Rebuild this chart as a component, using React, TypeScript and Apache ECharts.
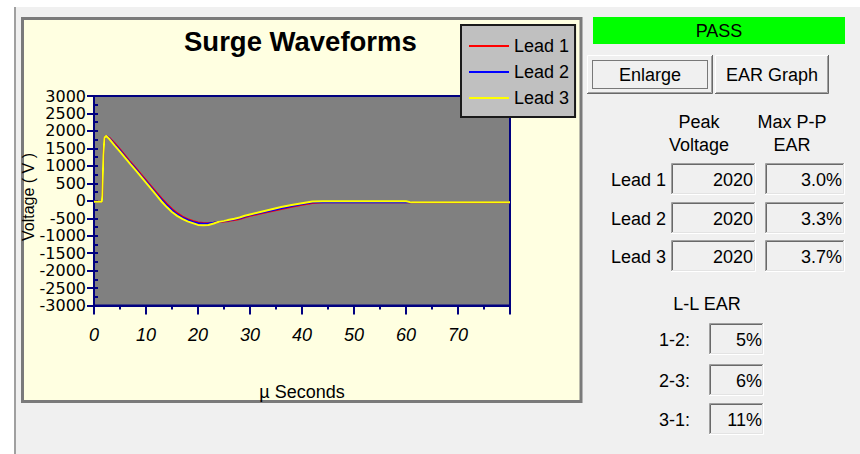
import React, { useEffect, useRef } from "react";
import * as echarts from "echarts";

// ---- data ----
const times = [0, 1.5, 1.6, 1.8, 2.0, 2.3, 3, 4, 5, 6, 7, 8, 9, 10, 11, 12, 13, 14, 15, 16, 17, 18, 19, 20, 21, 22, 23, 24, 25, 26, 27, 28, 29, 30, 32, 34, 36, 38, 40, 42, 44, 50, 55, 60, 61, 70, 80];
const lead1 = [-30, -30, 150, 1300, 1800, 1860, 1800, 1640, 1470, 1290, 1110, 940, 760, 590, 415, 240, 70, -90, -235, -355, -450, -525, -580, -620, -635, -640, -630, -610, -595, -575, -550, -520, -470, -430, -365, -300, -235, -170, -115, -60, -40, -40, -40, -40, -40, -40, -40];
const lead2 = [-30, -30, 150, 1300, 1800, 1860, 1780, 1610, 1440, 1260, 1080, 910, 730, 555, 380, 200, 30, -130, -270, -390, -480, -550, -605, -645, -655, -650, -630, -600, -580, -560, -530, -500, -450, -410, -345, -280, -215, -150, -95, -45, -40, -40, -40, -40, -40, -40, -40];
const lead3 = [-30, -30, 150, 1300, 1800, 1860, 1760, 1580, 1410, 1230, 1050, 880, 700, 520, 340, 160, -20, -180, -320, -430, -520, -590, -640, -690, -700, -695, -650, -600, -575, -545, -515, -480, -430, -390, -320, -250, -180, -120, -70, -20, -15, -15, -15, -15, -45, -45, -45];
const seriesNames = ["Lead 1", "Lead 2", "Lead 3"];
const seriesColors = ["#ff0000", "#0000ff", "#ffff00"];
const xTickLabels = ["0", "10", "20", "30", "40", "50", "60", "70"];
const peakVoltage = ["2020", "2020", "2020"];
const maxPPEar = ["3.0%", "3.3%", "3.7%"];
const llLabels = ["1-2:", "2-3:", "3-1:"];
const llEar = ["5%", "6%", "11%"];

const FONT = '"Liberation Sans", Arial, sans-serif';

function txt(x: number, y: number, text: string, align: string, size = 18, extra: any = {}) {
  return {
    type: "text",
    x,
    y,
    z: 10,
    style: {
      text,
      fill: "#000",
      font: `${size}px ${FONT}`,
      align,
      textAlign: align,
      verticalAlign: "middle",
      textVerticalAlign: "middle",
    },
    ...extra,
  };
}

function line(points: number[][], color: string, width = 1, z = 5) {
  return { type: "polyline", z, shape: { points }, style: { stroke: color, lineWidth: width, fill: null } };
}

function sunken(x: number, y: number, w: number, h: number) {
  return [
    { type: "rect", z: 4, shape: { x, y, width: w, height: h }, style: { fill: "#f0f0f0" } },
    line([[x + 0.5, y + h], [x + 0.5, y + 0.5], [x + w, y + 0.5]], "#a0a0a0"),
    line([[x + 1.5, y + h - 1], [x + 1.5, y + 1.5], [x + w - 1, y + 1.5]], "#696969"),
    line([[x, y + h - 0.5], [x + w - 0.5, y + h - 0.5], [x + w - 0.5, y]], "#ffffff"),
    line([[x + 1, y + h - 1.5], [x + w - 1.5, y + h - 1.5], [x + w - 1.5, y + 1]], "#e3e3e3"),
  ];
}

function button(x: number, y: number, w: number, h: number, label: string, focused: boolean) {
  const els: any[] = [
    { type: "rect", z: 4, shape: { x, y, width: w, height: h }, style: { fill: "#f0f0f0" } },
    line([[x + 0.5, y + h], [x + 0.5, y + 0.5], [x + w, y + 0.5]], "#ffffff"),
    line([[x, y + h - 0.5], [x + w - 0.5, y + h - 0.5], [x + w - 0.5, y]], "#696969"),
    line([[x + 1, y + h - 1.5], [x + w - 1.5, y + h - 1.5], [x + w - 1.5, y + 1]], "#a0a0a0"),
    txt(x + w / 2, y + h / 2, label, "center"),
  ];
  if (focused) {
    els.push({
      type: "rect",
      z: 6,
      shape: { x: x + 5.5, y: y + 5.5, width: w - 11, height: h - 11 },
      style: { fill: null, stroke: "#000", lineWidth: 1, lineDash: [1, 1] },
    });
  }
  return els;
}

export default function App() {
  const ref = useRef<HTMLDivElement>(null);

  useEffect(() => {
    if (!ref.current) return;
    const chart = echarts.init(ref.current, undefined, { renderer: "svg" });

    const graphics: any[] = [
      // page background
      { type: "rect", z: -20, shape: { x: 0, y: 0, width: 860, height: 454 }, style: { fill: "#f0f0f0" } },
      { type: "rect", z: -19, shape: { x: 0, y: 0, width: 860, height: 7 }, style: { fill: "#ffffff" } },
      { type: "rect", z: -19, shape: { x: 0, y: 0, width: 14, height: 454 }, style: { fill: "#ffffff" } },
      { type: "line", z: -18, shape: { x1: 15, y1: 7, x2: 15, y2: 454 }, style: { stroke: "#a0a0a0", lineWidth: 2 } },
      // chart panel
      {
        type: "rect",
        z: -15,
        shape: { x: 22.5, y: 18.5, width: 558.5, height: 383 },
        style: { fill: "#ffffe1", stroke: "#7a7a7a", lineWidth: 3 },
      },
      // y axis name
      {
        type: "text",
        x: 28,
        y: 197,
        rotation: Math.PI / 2,
        z: -5,
        style: {
          text: "Voltage ( V )",
          fill: "#000",
          font: `16px ${FONT}`,
          align: "center",
          textAlign: "center",
          verticalAlign: "middle",
          textVerticalAlign: "middle",
        },
      },
      // PASS
      { type: "rect", z: 4, shape: { x: 593, y: 17, width: 252, height: 27 }, style: { fill: "#00ff00" } },
      txt(719, 31, "PASS", "center"),
      ...button(587, 55, 126, 39, "Enlarge", true),
      ...button(715, 55, 114, 39, "EAR Graph", false),
      txt(699, 122, "Peak", "center"),
      txt(699, 145, "Voltage", "center"),
      txt(792, 122, "Max P-P", "center"),
      txt(792, 145, "EAR", "center"),
      txt(707, 304, "L-L EAR", "center"),
    ];

    const rowTops = [163, 202, 240];
    seriesNames.forEach((name, i) => {
      const top = rowTops[i];
      graphics.push(txt(666, top + 17, name, "right"));
      graphics.push(...sunken(671, top, 85, 32));
      graphics.push(...sunken(765, top, 80, 32));
      graphics.push(txt(753, top + 17, peakVoltage[i], "right"));
      graphics.push(txt(842, top + 17, maxPPEar[i], "right"));
    });

    const llTops = [323, 364, 403];
    llLabels.forEach((lab, i) => {
      const top = llTops[i];
      graphics.push(txt(659, top + 17, lab, "left"));
      graphics.push(...sunken(709, top, 55, 32));
      graphics.push(txt(762, top + 17, llEar[i], "right"));
    });

    const leads = [lead1, lead2, lead3];

    chart.setOption({
      animation: false,
      backgroundColor: "transparent",
      title: {
        text: "Surge Waveforms",
        left: 184,
        top: 27,
        padding: 0,
        textStyle: { fontSize: 27.5, fontWeight: "bold", fontFamily: FONT, color: "#000" },
      },
      legend: {
        orient: "vertical",
        left: 461,
        top: 25,
        data: seriesNames,
        icon: "rect",
        itemWidth: 40,
        itemHeight: 2,
        itemGap: 8,
        selectedMode: false,
        padding: [12, 6, 10, 8],
        backgroundColor: "#c0c0c0",
        borderColor: "#1a1a1a",
        borderWidth: 2,
        textStyle: { fontSize: 18, lineHeight: 18, color: "#000", fontFamily: FONT },
      },
      grid: {
        left: 94,
        top: 96,
        width: 416,
        height: 209.6,
        show: true,
        backgroundColor: "#808080",
        borderColor: "#000080",
        borderWidth: 2,
      },
      xAxis: {
        type: "value",
        min: 0,
        max: 80,
        interval: 10,
        axisLine: { show: true, onZero: false, lineStyle: { color: "#000080", width: 2 } },
        axisTick: { show: true, length: 9, lineStyle: { color: "#000080", width: 2 } },
        minorTick: { show: true, splitNumber: 2, length: 4, lineStyle: { color: "#000080", width: 2 } },
        splitLine: { show: false },
        axisLabel: {
          margin: 20,
          fontSize: 18,
          fontStyle: "italic",
          fontFamily: FONT,
          color: "#000",
          formatter: (v: number) => xTickLabels[Math.round(v / 10)] ?? "",
        },
        name: "µ Seconds",
        nameLocation: "middle",
        nameGap: 77,
        nameTextStyle: { fontSize: 18, color: "#000", fontFamily: FONT },
      },
      yAxis: [
        {
          type: "value",
          min: -3000,
          max: 3000,
          interval: 500,
          axisLine: { show: true, lineStyle: { color: "#000080", width: 2 } },
          axisTick: { show: true, length: 7, lineStyle: { color: "#000080", width: 2 } },
          splitLine: { show: false },
          axisLabel: {
            margin: 8,
            fontSize: 16,
            lineHeight: 16,
            color: "#000",
            fontFamily: '"DejaVu Sans", sans-serif',
            showMinLabel: true,
            showMaxLabel: true,
            hideOverlap: false,
            formatter: (v: number) => String(v),
          },
        },
        {
          type: "value",
          min: -3000,
          max: 3000,
          interval: 250,
          position: "left",
          axisLine: { show: false },
          axisTick: { show: true, inside: true, length: 4, lineStyle: { color: "#000080", width: 2 } },
          axisLabel: { show: false },
          splitLine: { show: false },
        },
      ],
      series: seriesNames.map((name, i) => ({
        name,
        type: "line",
        yAxisIndex: 0,
        showSymbol: false,
        symbol: "none",
        color: seriesColors[i],
        lineStyle: { color: seriesColors[i], width: 2 },
        data: times.map((t, k) => [t, leads[i][k]]),
      })),
      graphic: { elements: graphics },
    });

    return () => chart.dispose();
  }, []);

  return <div ref={ref} style={{ position: "absolute", left: 0, top: 0, width: 860, height: 454 }} />;
}
